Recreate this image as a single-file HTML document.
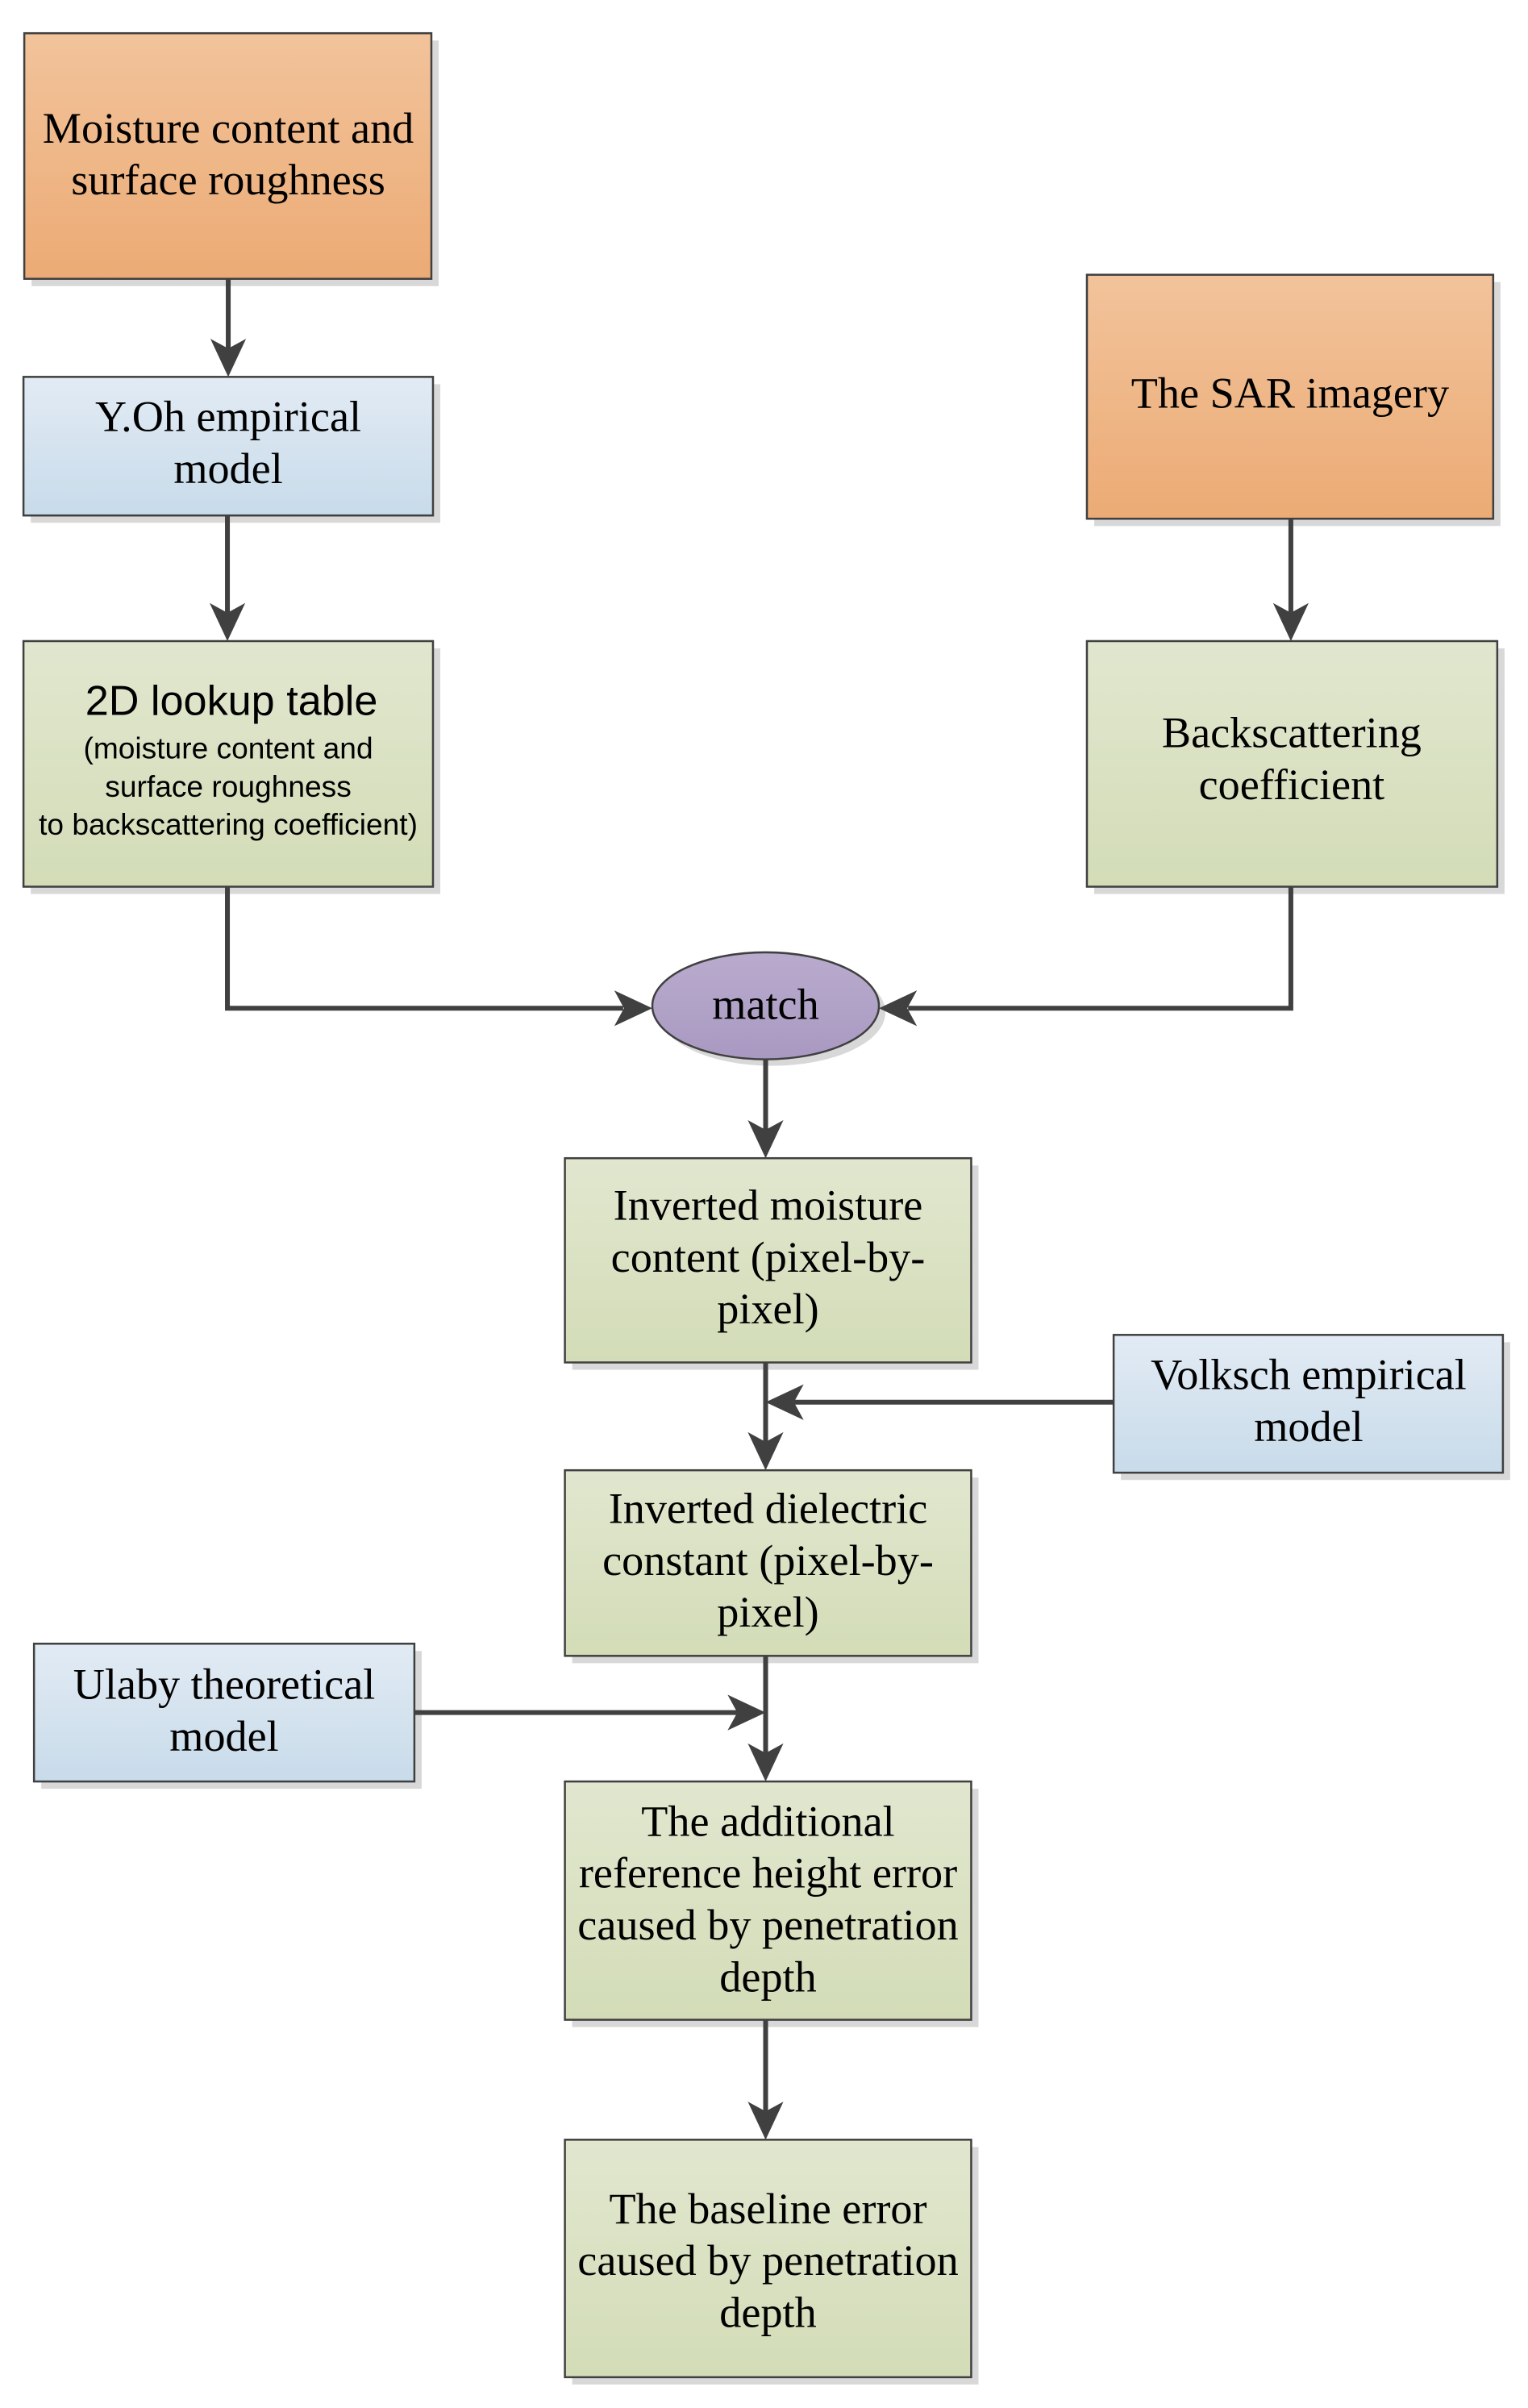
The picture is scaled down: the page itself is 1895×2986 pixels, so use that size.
<!DOCTYPE html>
<html><head><meta charset="utf-8"><style>
html,body{margin:0;padding:0;background:#fff;}
svg{display:block;}
.s{font-family:"Liberation Serif",serif;font-size:54px;fill:#000;text-anchor:middle;}
.a{font-family:"Liberation Sans",sans-serif;fill:#000;text-anchor:middle;}
</style></head><body>
<svg width="1895" height="2986" viewBox="0 0 1888 2971" preserveAspectRatio="none" xmlns="http://www.w3.org/2000/svg">
<defs>
<linearGradient id="go" x1="0" y1="0" x2="0" y2="1"><stop offset="0" stop-color="#f2c39b"/><stop offset="1" stop-color="#ecab75"/></linearGradient>
<linearGradient id="gb" x1="0" y1="0" x2="0" y2="1"><stop offset="0" stop-color="#e2ebf4"/><stop offset="1" stop-color="#c8dbea"/></linearGradient>
<linearGradient id="gg" x1="0" y1="0" x2="0" y2="1"><stop offset="0" stop-color="#e1e7cf"/><stop offset="1" stop-color="#d3dcb7"/></linearGradient>
<linearGradient id="gp" x1="0" y1="0" x2="0" y2="1"><stop offset="0" stop-color="#b9abcd"/><stop offset="1" stop-color="#a999c2"/></linearGradient>
</defs>
<g fill="#d8d8d8">
<rect x="39" y="50" width="503" height="303"/>
<rect x="38" y="474" width="506" height="171"/>
<rect x="38" y="800" width="506" height="303"/>
<rect x="1352" y="348" width="502" height="301"/>
<rect x="1352" y="800" width="507" height="303"/>
<rect x="707" y="1438" width="502" height="252"/>
<rect x="1385" y="1656" width="481" height="170"/>
<rect x="707" y="1823" width="502" height="229"/>
<rect x="51" y="2037" width="470" height="170"/>
<rect x="707" y="2207" width="502" height="294"/>
<rect x="707" y="2649" width="502" height="293"/>
<ellipse cx="954" cy="1249" rx="140" ry="66"/>
</g>
<g stroke="#404040" stroke-width="2.5">
<rect x="30" y="41" width="503" height="303" fill="url(#go)"/>
<rect x="29" y="465" width="506" height="171" fill="url(#gb)"/>
<rect x="29" y="791" width="506" height="303" fill="url(#gg)"/>
<rect x="1343" y="339" width="502" height="301" fill="url(#go)"/>
<rect x="1343" y="791" width="507" height="303" fill="url(#gg)"/>
<rect x="698" y="1429" width="502" height="252" fill="url(#gg)"/>
<rect x="1376" y="1647" width="481" height="170" fill="url(#gb)"/>
<rect x="698" y="1814" width="502" height="229" fill="url(#gg)"/>
<rect x="42" y="2028" width="470" height="170" fill="url(#gb)"/>
<rect x="698" y="2198" width="502" height="294" fill="url(#gg)"/>
<rect x="698" y="2640" width="502" height="293" fill="url(#gg)"/>
<ellipse cx="946" cy="1241" rx="140" ry="66" fill="url(#gp)"/>
</g>
<g stroke="#404040" stroke-width="6" fill="none">
<line x1="282" y1="344" x2="282" y2="430"/>
<line x1="281" y1="636" x2="281" y2="756"/>
<line x1="1595" y1="640" x2="1595" y2="756"/>
<polyline points="281,1094 281,1244 770,1244"/>
<polyline points="1595,1094 1595,1244 1122,1244"/>
<line x1="946" y1="1307" x2="946" y2="1394"/>
<line x1="946" y1="1681" x2="946" y2="1779"/>
<line x1="1376" y1="1730" x2="981" y2="1730"/>
<line x1="946" y1="2043" x2="946" y2="2163"/>
<line x1="512" y1="2113" x2="911" y2="2113"/>
<line x1="946" y1="2492" x2="946" y2="2605"/>
</g>
<g fill="#404040">
<polygon points="282,465 260,418 282,430 304,418"/>
<polygon points="281,791 259,744 281,756 303,744"/>
<polygon points="1595,791 1573,744 1595,756 1617,744"/>
<polygon points="806,1244 759,1222 771,1244 759,1266"/>
<polygon points="1086,1244 1133,1222 1121,1244 1133,1266"/>
<polygon points="946,1429 924,1382 946,1394 968,1382"/>
<polygon points="946,1814 924,1767 946,1779 968,1767"/>
<polygon points="946,1730 993,1708 981,1730 993,1752"/>
<polygon points="946,2198 924,2151 946,2163 968,2151"/>
<polygon points="946,2113 899,2091 911,2113 899,2135"/>
<polygon points="946,2640 924,2593 946,2605 968,2593"/>
</g>
<text class="s" x="282" y="176">Moisture content and</text>
<text class="s" x="282" y="240">surface roughness</text>
<text class="s" x="282" y="532">Y.Oh empirical</text>
<text class="s" x="282" y="596">model</text>
<text class="a" x="286" y="882" font-size="52">2D lookup table</text>
<text class="a" x="282" y="936" font-size="37">(moisture content and</text>
<text class="a" x="282" y="983" font-size="37">surface roughness</text>
<text class="a" x="282" y="1030" font-size="37">to backscattering coefficient)</text>
<text class="s" x="1594" y="503">The SAR imagery</text>
<text class="s" x="1596" y="922">Backscattering</text>
<text class="s" x="1596" y="986">coefficient</text>
<text class="s" x="946" y="1257" font-size="50">match</text>
<text class="s" x="949" y="1505">Inverted moisture</text>
<text class="s" x="949" y="1569">content (pixel-by-</text>
<text class="s" x="949" y="1633">pixel)</text>
<text class="s" x="1617" y="1714">Volksch empirical</text>
<text class="s" x="1617" y="1778">model</text>
<text class="s" x="949" y="1879">Inverted dielectric</text>
<text class="s" x="949" y="1943">constant (pixel-by-</text>
<text class="s" x="949" y="2007">pixel)</text>
<text class="s" x="277" y="2096">Ulaby theoretical</text>
<text class="s" x="277" y="2160">model</text>
<text class="s" x="949" y="2265">The additional</text>
<text class="s" x="949" y="2329">reference height error</text>
<text class="s" x="949" y="2393">caused by penetration</text>
<text class="s" x="949" y="2457">depth</text>
<text class="s" x="949" y="2743">The baseline error</text>
<text class="s" x="949" y="2807">caused by penetration</text>
<text class="s" x="949" y="2871">depth</text>
</svg>
</body></html>
